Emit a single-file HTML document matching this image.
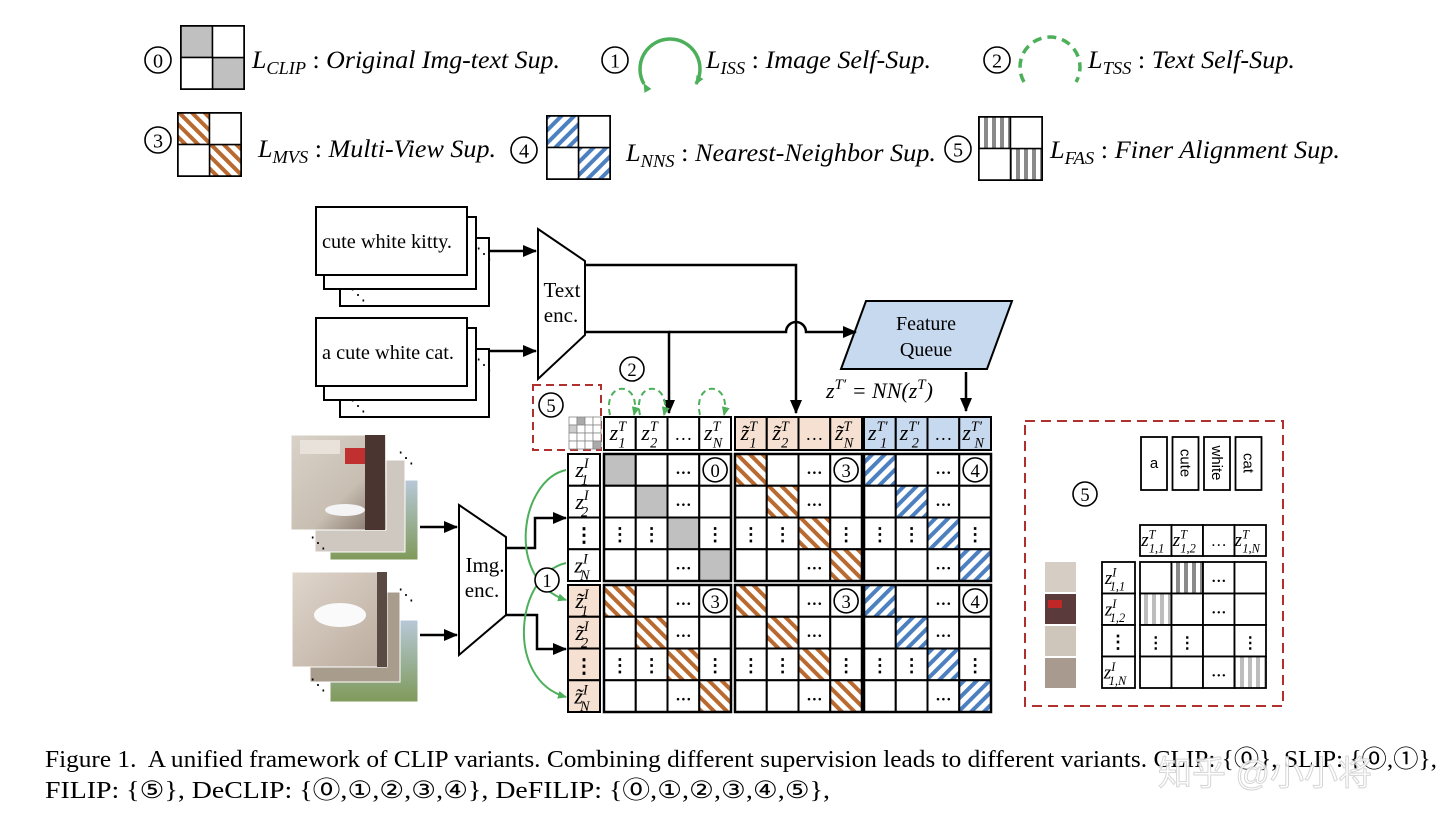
<!DOCTYPE html>
<html><head><meta charset="utf-8">
<style>
html,body{margin:0;padding:0;background:#fff;}
svg{display:block;}
.t{font-family:"Liberation Serif",serif;}
.i{font-family:"Liberation Serif",serif;font-style:italic;}
</style></head>
<body>
<svg id="s" width="1440" height="829" viewBox="0 0 1440 829" xmlns="http://www.w3.org/2000/svg">
<defs>
<pattern id="br" width="9" height="9" patternUnits="userSpaceOnUse" patternTransform="rotate(-45)">
<rect width="9" height="9" fill="#fff"/><rect width="4" height="9" fill="#b86a30"/></pattern>
<pattern id="bl" width="9" height="9" patternUnits="userSpaceOnUse" patternTransform="rotate(45)">
<rect width="9" height="9" fill="#fff"/><rect width="4" height="9" fill="#4c80c0"/></pattern>
<pattern id="gv" width="8" height="8" patternUnits="userSpaceOnUse">
<rect width="8" height="8" fill="#fff"/><rect width="4" height="8" fill="#8a8a8a"/></pattern>
<pattern id="gl" width="8" height="8" patternUnits="userSpaceOnUse">
<rect width="8" height="8" fill="#fff"/><rect width="4" height="8" fill="#bdbdbd"/></pattern>
<marker id="ahl" markerWidth="14" markerHeight="12" refX="13" refY="6" orient="auto" markerUnits="userSpaceOnUse"><path d="M0,0 L14,6 L0,12z" fill="#000"/></marker>
<marker id="ag" markerWidth="9" markerHeight="8" refX="8" refY="4" orient="auto" markerUnits="userSpaceOnUse"><path d="M0,0 L9,4 L0,8z" fill="#4caf5a"/></marker>
<linearGradient id="ph1" x1="0" y1="0" x2="1" y2="1"><stop offset="0" stop-color="#d9d2c8"/><stop offset="0.6" stop-color="#c8beb2"/><stop offset="1" stop-color="#7a6a60"/></linearGradient>
<linearGradient id="ph2" x1="0" y1="0" x2="1" y2="1"><stop offset="0" stop-color="#e0d6cc"/><stop offset="1" stop-color="#b9aa9c"/></linearGradient>
<linearGradient id="gr" x1="0" y1="0" x2="0" y2="1"><stop offset="0" stop-color="#b8c8d8"/><stop offset="1" stop-color="#7f9a5a"/></linearGradient>
</defs>
<g id="g"></g>
</svg>
<script>
const g=document.getElementById('g');let h='';
function R(x,y,w,hh,f,sw,st){h+=`<rect x="${x}" y="${y}" width="${w}" height="${hh}" fill="${f||'#fff'}" stroke="${st||'#000'}" stroke-width="${sw||2}"/>`;}
function T(x,y,s,sz,cls,anc,ext){h+=`<text x="${x}" y="${y}" font-size="${sz}" class="${cls||'t'}" text-anchor="${anc||'start'}" ${ext||''}>${s}</text>`;}
function C(x,y,n,r){r=r||12;h+=`<circle cx="${x}" cy="${y}" r="${r}" fill="#fff" stroke="#000" stroke-width="1.6"/>`;T(x,y+r*0.58,n,r*1.55,'t','middle');}
function L(d,ext){h+=`<path d="${d}" fill="none" stroke="#000" stroke-width="2.5" ${ext||''}/>`;}
function Z(x,y,sup,sub,tl,sz){sz=sz||20;h+=`<text x="${x}" y="${y}" class="i" font-size="${sz}" text-anchor="middle">${tl?'z̃':'z'}<tspan font-size="${sz*0.65}" dy="${-sz*0.4}">${sup}</tspan><tspan font-size="${sz*0.65}" dx="${-sz*0.35}" dy="${sz*0.75}">${sub}</tspan></text>`;}
function LG(x,y,sub,txt,w){h+=`<text x="${x}" y="${y}" class="i" font-size="25.5" textLength="${w}" lengthAdjust="spacingAndGlyphs">L<tspan font-size="18" dy="6">${sub}</tspan><tspan dy="-6" font-style="normal"> : </tspan>${txt}</text>`;}
function mini(x,y,s,f){R(x,y,s,s,'#fff',2);R(x,y,s/2,s/2,f,1.5);R(x+s/2,y+s/2,s/2,s/2,f,1.5);R(x+s/2,y,s/2,s/2,'#fff',1.5);R(x,y+s/2,s/2,s/2,'#fff',1.5);}
C(158,60,'0',13);mini(181,26,63,'#c0c0c0');LG(252,68,'CLIP','Original Img-text Sup.',308);
C(615,60,'1',13);h+=`<path d="M644,84 A30,30 0 1 1 696,84" fill="none" stroke="#4caf5a" stroke-width="3.5" marker-start="url(#ag)" marker-end="url(#ag)"/>`;LG(706,68,'ISS','Image Self-Sup.',225);
C(997,60,'2',13);h+=`<path d="M1024,82 A30,30 0 1 1 1076,82" fill="none" stroke="#4caf5a" stroke-width="3.5" stroke-dasharray="9,6"/>`;LG(1088,68,'TSS','Text Self-Sup.',207);
C(158,140,'3',13);mini(178,113,63,'url(#br)');LG(258,157,'MVS','Multi-View Sup.',238);
C(524,150,'4',13);mini(547,116,63,'url(#bl)');LG(626,161,'NNS','Nearest-Neighbor Sup.',310);
C(958,149,'5',13);mini(979,117,63,'url(#gv)');LG(1050,158,'FAS','Finer Alignment Sup.',290);
function stack(y,txt,w){R(340,y+31,149,68);R(324,y+10,152,72);R(316,y,151,68);T(322,y+41,txt,20,'t','start',`textLength="${w}" lengthAdjust="spacingAndGlyphs"`);T(350,y+93,'⋱',16);T(476,y+52,'⋱',16);}
stack(207,'cute white kitty.',130);stack(318,'a cute white cat.',132);
L('M490,251 H536','marker-end="url(#ahl)"');L('M490,351 H536','marker-end="url(#ahl)"');
h+='<path d="M538,229 L585,261 L585,335 L538,379 Z" fill="#fff" stroke="#000" stroke-width="2"/>';
T(562,297,'Text',21,'t','middle');T(561,322,'enc.',21,'t','middle');
h+='<path d="M866,301 L1012,301 L987,369 L841,369 Z" fill="#c7d9ee" stroke="#000" stroke-width="2"/>';
T(926,330,'Feature',20,'t','middle');T(926,356,'Queue',20,'t','middle');
L('M585,265 H796 V413','marker-end="url(#ahl)"');
L('M585,332 H669 V413','marker-end="url(#ahl)"');
L('M669,332 H786 A10,10 0 0 1 806,332 H856','marker-end="url(#ahl)"');
h+=`<text x="826" y="398" class="i" font-size="22">z<tspan font-size="15" dy="-9">T′</tspan><tspan dy="9"> = NN(z</tspan><tspan font-size="15" dy="-9">T</tspan><tspan dy="9">)</tspan></text>`;
L('M966,372 V411','marker-end="url(#ahl)"');
h+='<rect x="533" y="385" width="68" height="65" fill="none" stroke="#b03030" stroke-width="2" stroke-dasharray="8,5"/>';
C(551,405,'5',12);
for(let i=0;i<4;i++)for(let j=0;j<4;j++){h+=`<rect x="${569+j*8}" y="${417+i*8}" width="8" height="8" fill="${(i==0&&j==1)||(i==3&&j==3)?'#aaa':(i==1&&j==0)?'#ccc':'#fff'}" stroke="#888" stroke-width="0.8"/>`;}
function garc(x1,x2){h+=`<path d="M${x1},415 C${x1-8},380 ${x2+8},380 ${x2},415" fill="none" stroke="#4caf5a" stroke-width="2" stroke-dasharray="6,4" marker-end="url(#ag)"/>`;}
garc(610,634);garc(640,664);garc(700,724);
C(632,369,'2',12);
const cw=31.75;
const colsX=[604,735,864];const rowsY=[454,585];
const hdr=[{f:'#fff',t:0,sup:'T'},{f:'#f6e0d1',t:1,sup:'T'},{f:'#c7d9ee',t:0,sup:'T′'}];
colsX.forEach((x0,k)=>{for(let c=0;c<4;c++){R(x0+c*cw,417,cw,33,hdr[k].f);
 if(c==2)T(x0+c*cw+cw/2,440,'…',18,'t','middle');else Z(x0+c*cw+cw/2-2,440,hdr[k].sup,['1','2','','N'][c],hdr[k].t,22);}});
rowsY.forEach((y0,k)=>{for(let r=0;r<4;r++){R(568,y0+r*cw,32,cw,k?'#f6e0d1':'#fff');
 if(r==2)T(584,y0+r*cw+24,'⋮',20,'t','middle','font-weight="bold"');else Z(582,y0+r*cw+23,'I',['1','2','','N'][r],k==1,22);}});
const fills=[['#c0c0c0','url(#br)','url(#bl)'],['url(#br)','url(#br)','url(#bl)']];
const nums=[['0','3','4'],['3','3','4']];
rowsY.forEach((y0,ri)=>colsX.forEach((x0,ci)=>{
 for(let r=0;r<4;r++)for(let c=0;c<4;c++){
  const x=x0+c*cw,y=y0+r*cw;R(x,y,cw,cw,r==c?fills[ri][ci]:'#fff');
  if(r!=c){ if(r==0&&c==3)C(x+cw/2,y+cw/2,nums[ri][ci],12);
   else if(r==2)T(x+cw/2,y+23,'⋮',18,'t','middle','font-weight="bold"');
   else if(c==2)T(x+cw/2,y+20,'…',16,'t','middle','font-weight="bold"');}
 }
 h+=`<rect x="${x0}" y="${y0}" width="${cw*4}" height="${cw*4}" fill="none" stroke="#000" stroke-width="2.5"/>`;
}));
function photo(x,y,w,hh,fill){h+=`<rect x="${x}" y="${y}" width="${w}" height="${hh}" fill="${fill}" stroke="#fff" stroke-width="1"/>`;}
photo(330,480,88,80,'url(#gr)');photo(315,460,90,92,'#cfc8c0');photo(291,435,95,95,'url(#ph1)');
h+='<rect x="300" y="440" width="40" height="14" fill="#e8e2da"/><rect x="345" y="448" width="28" height="16" fill="#c03030"/><ellipse cx="345" cy="510" rx="20" ry="6" fill="#f4f4f4"/><rect x="365" y="435" width="20" height="95" fill="#4a3530"/>';
T(398,463,'⋱',16);T(310,548,'⋱',16);
photo(330,620,88,82,'url(#gr)');photo(310,592,90,90,'#a89c8c');photo(292,572,95,95,'url(#ph2)');
h+='<ellipse cx="340" cy="615" rx="26" ry="12" fill="#fafafa"/><rect x="377" y="572" width="10" height="95" fill="#5a4a44"/>';
T(398,600,'⋱',16);T(310,690,'⋱',16);
L('M420,527 H457','marker-end="url(#ahl)"');L('M420,635 H457','marker-end="url(#ahl)"');
h+='<path d="M459,505 L506,537 L506,615 L459,655 Z" fill="#fff" stroke="#000" stroke-width="2"/>';
T(485,572,'Img.',21,'t','middle');T(482,597,'enc.',21,'t','middle');
L('M506,548 H535 V518 H566','marker-end="url(#ahl)"');
L('M506,615 H537 V649 H566','marker-end="url(#ahl)"');
function ga(d){h+=`<path d="${d}" fill="none" stroke="#4caf5a" stroke-width="2" marker-end="url(#ag)"/>`;}
ga('M566,470 C520,480 505,580 566,600');ga('M566,563 C515,575 505,680 566,697');
C(547,580,'1',12);
h+='<rect x="1025" y="421" width="258" height="285" fill="none" stroke="#b03030" stroke-width="2" stroke-dasharray="10,6"/>';
C(1085,494,'5',12);
['a','cute','white','cat'].forEach((w,i)=>{const x=1141+i*31.5;R(x,437,26,53,'#fff',1.8);if(i>0)h+=`<text transform="translate(${x+13},463) rotate(90)" font-family="Liberation Sans,sans-serif" font-size="15" text-anchor="middle" dy="5">${w}</text>`;});
h+=`<text x="1154" y="468" font-family="Liberation Sans,sans-serif" font-size="15" text-anchor="middle">a</text>`;
const rc=31.5;
for(let c=0;c<4;c++){R(1140+c*rc,525,rc,31,'#fff',1.8);if(c==2)T(1140+c*rc+rc/2,546,'…',16,'t','middle');else Z(1140+c*rc+rc/2-3,546,'T',['1,1','1,2','','1,N'][c],0,19);}
for(let r=0;r<4;r++){R(1102,562+r*rc,33,rc,'#fff',1.8);if(r==2)T(1118,562+r*rc+23,'⋮',18,'t','middle','font-weight="bold"');else Z(1115,562+r*rc+22,'I',['1,1','1,2','','1,N'][r],0,19);
 for(let c=0;c<4;c++){const x=1140+c*rc,y=562+r*rc;let f='#fff';if(r==0&&c==1)f='url(#gv)';if(r==1&&c==0)f='url(#gl)';if(r==3&&c==3)f='url(#gl)';R(x,y,rc,rc,f,1.8);
 if(!((r==0&&c==1)||(r==1&&c==0)||(r==3&&c==3))){if(r==2&&c!=2)T(x+rc/2,y+23,'⋮',16,'t','middle','font-weight="bold"');else if(c==2&&r!=2)T(x+rc/2,y+20,'…',15,'t','middle','font-weight="bold"');}}}
['#d6cec4','#5a3a3a','#cfc6bb','#a89a8e'].forEach((f,i)=>{h+=`<rect x="1045" y="${562+i*32}" width="31" height="30" fill="${f}"/>`;});
h+='<rect x="1048" y="600" width="14" height="8" fill="#c02828"/>';
T(45,767,'Figure 1.&#160; A unified framework of CLIP variants. Combining different supervision leads to different variants. CLIP: {⓪}, SLIP: {⓪,①},',24,'t','start','textLength="1392" lengthAdjust="spacingAndGlyphs"');
T(45,798,'FILIP: {⑤}, DeCLIP: {⓪,①,②,③,④}, DeFILIP: {⓪,①,②,③,④,⑤},',24,'t','start','textLength="785" lengthAdjust="spacingAndGlyphs"');
h+=`<text x="1265" y="785" font-family="Liberation Sans,'Noto Sans CJK SC',sans-serif" font-size="34" fill="#fff" stroke="#cfcfcf" stroke-width="1" text-anchor="middle" opacity="0.85">知乎 @小小将</text>`;
g.innerHTML=h;
</script>
</body></html>
